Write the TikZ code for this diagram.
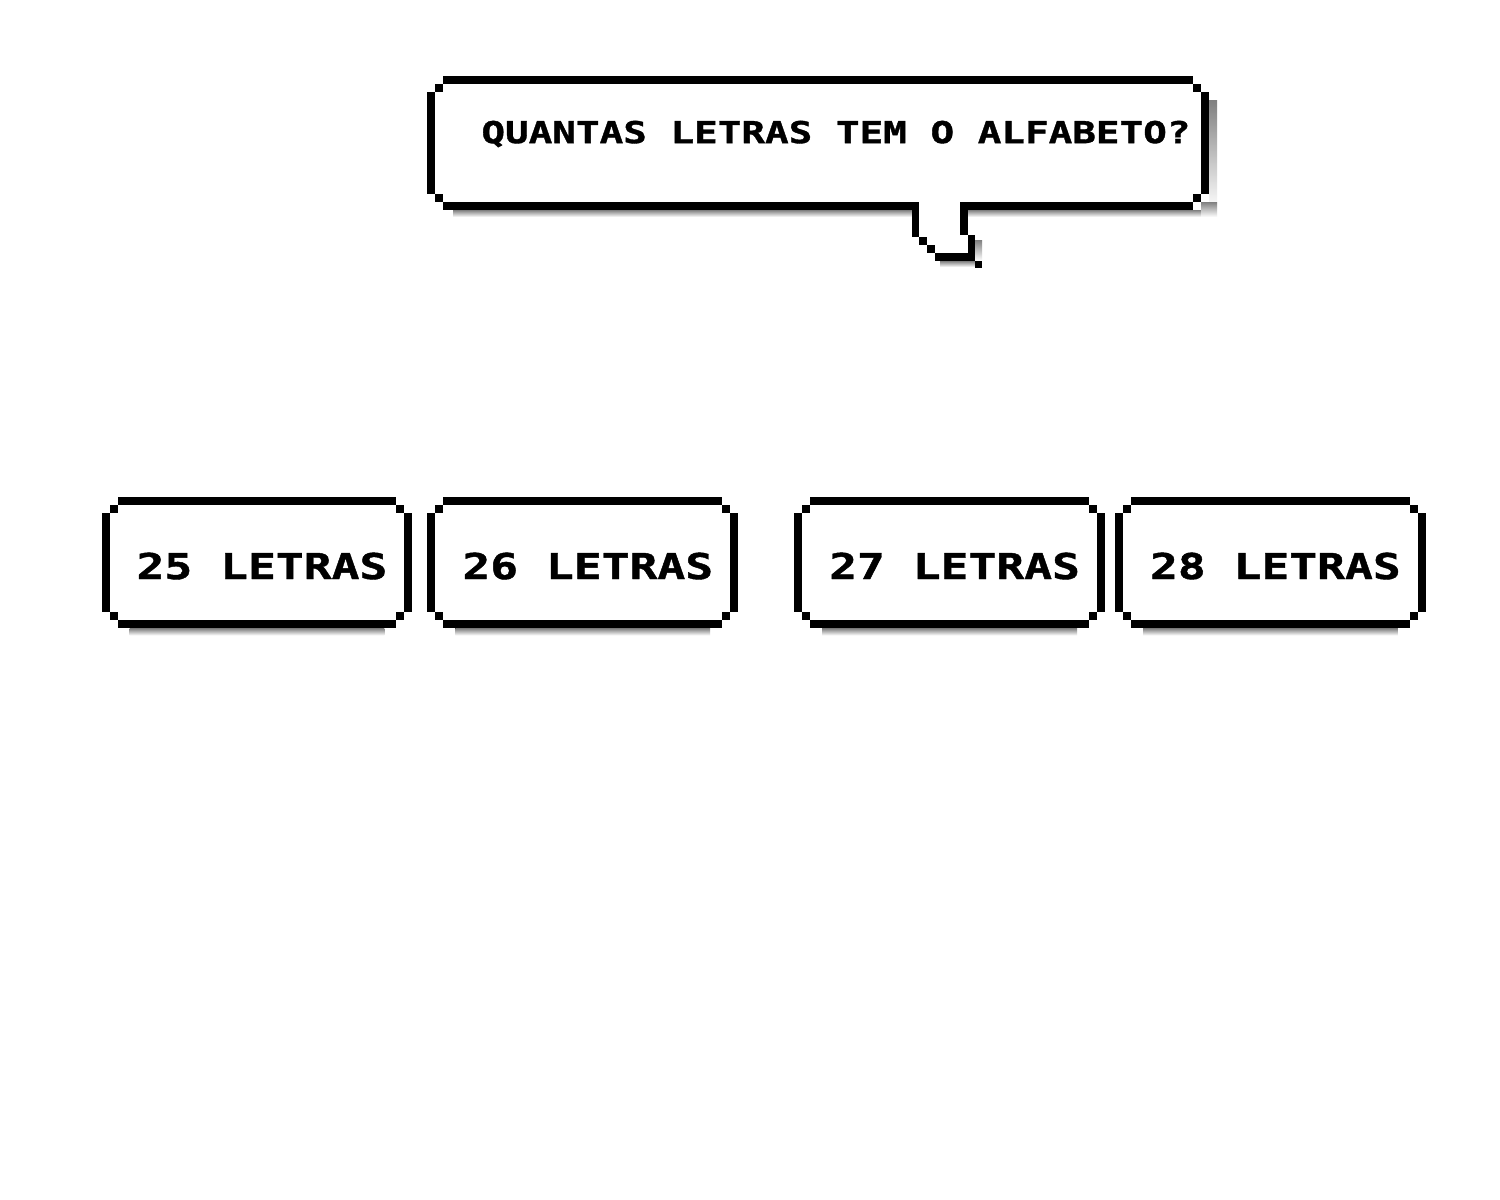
\documentclass[tikz,border=0pt]{standalone}
\usepackage{fontspec}
\usetikzlibrary{positioning}
\newfontfamily\pixfont[FakeStretch=1.3,BoldFeatures={FakeBold=1.2}]{DejaVu Sans Mono}
\definecolor{shade}{gray}{0.55}

% pixel frame round an answer node, t = 4pt
\newcommand{\pixframe}[1]{%
  \fill[shade] ([xshift=14pt]#1.south west) rectangle ([xshift=-14pt,yshift=-3.5pt]#1.south east);
  \fill ([xshift=8pt]#1.north west) rectangle ([xshift=-8pt,yshift=-4pt]#1.north east);
  \fill ([xshift=8pt]#1.south west) rectangle ([xshift=-8pt,yshift=4pt]#1.south east);
  \fill ([yshift=-8pt]#1.north west) rectangle ([xshift=4pt,yshift=8pt]#1.south west);
  \fill ([yshift=-8pt]#1.north east) rectangle ([xshift=-4pt,yshift=8pt]#1.south east);
  \fill ([xshift=4pt,yshift=-4pt]#1.north west) rectangle ([xshift=8pt,yshift=-8pt]#1.north west);
  \fill ([xshift=-4pt,yshift=-4pt]#1.north east) rectangle ([xshift=-8pt,yshift=-8pt]#1.north east);
  \fill ([xshift=4pt,yshift=4pt]#1.south west) rectangle ([xshift=8pt,yshift=8pt]#1.south west);
  \fill ([xshift=-4pt,yshift=4pt]#1.south east) rectangle ([xshift=-8pt,yshift=8pt]#1.south east);
}

\begin{document}
\begin{tikzpicture}
		[x=0.5pt,y=-0.5pt,
		answer/.style={rectangle,inner sep=0pt,minimum width=155pt,minimum height=65.5pt,
			text height=16.5pt,text depth=0pt,execute at begin node={\hspace*{5pt}},
			font=\pixfont\bfseries\fontsize{17.8}{20}\selectfont},
		question/.style={inner sep=0pt,font=\pixfont\bfseries\fontsize{15.1}{18}\selectfont}]
		\fill[white] (0,0) rectangle (1500,1200);
		\useasboundingbox (0,0) rectangle (1500,1200);

		% speech bubble
		\fill[shade] (453,210) rectangle (912,217);
		\fill[shade] (968,210) rectangle (1201,217);
		\fill[shade] (1209,100) rectangle (1217,210);
		\fill[shade] (1201,202) rectangle (1217,217);
		\fill[shade] (975,240) rectangle (982,261);
		\fill[shade] (940,261) rectangle (975,267);
		\fill (443,76) rectangle (1193,84);
		\fill (443,202) rectangle (919,210);
		\fill (960,202) rectangle (1193,210);
		\fill (427,92) rectangle (435,194);
		\fill (1201,92) rectangle (1209,194);
		\fill (435,84) rectangle (443,92);
		\fill (1193,84) rectangle (1201,92);
		\fill (435,194) rectangle (443,202);
		\fill (1193,194) rectangle (1201,202);
		\fill (912,210) rectangle (919,237);
		\fill (919,237) rectangle (927,245);
		\fill (927,245) rectangle (935,253);
		\fill (935,253) rectangle (975,261);
		\fill (960,210) rectangle (968,235);
		\fill (968,235) rectangle (975,253);
		\fill (975,261) rectangle (982,268);
		\node [question] (q) at (836,134) {QUANTAS LETRAS TEM O ALFABETO?};

		% answers
		\node [answer] (a25) at (257,562.5) {25 LETRAS};
		\node [answer] (a26) [right=7.5pt of a25] {26 LETRAS};
		\node [answer] (a27) [right=28pt of a26] {27 LETRAS};
		\node [answer] (a28) [right=5pt of a27] {28 LETRAS};

		\pixframe{a25}
		\pixframe{a26}
		\pixframe{a27}
		\pixframe{a28}

	\end{tikzpicture}
\end{document}
